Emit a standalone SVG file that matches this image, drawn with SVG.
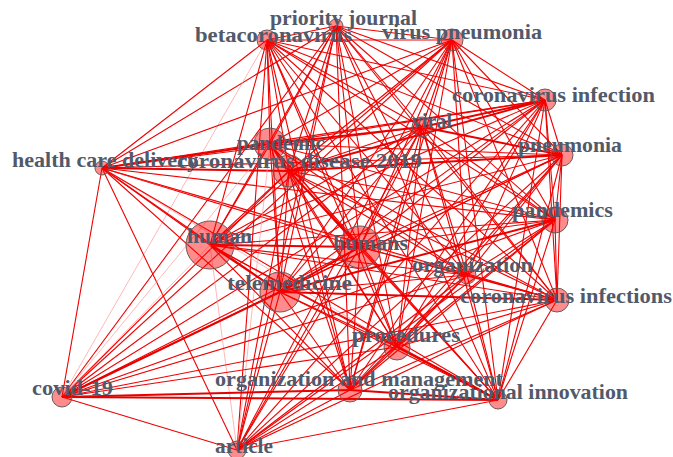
<svg xmlns="http://www.w3.org/2000/svg" width="673" height="457" viewBox="0 0 673 457">
<style>
.e{stroke:#ee0000;stroke-width:1.1;fill:none}
.t{stroke:#e60000;stroke-width:2;fill:none}
.p{stroke:#ff9a9a;stroke-width:1;fill:none;opacity:0.7}
.n{fill:#ff0000;fill-opacity:0.45;stroke:#6a5a5a;stroke-width:1}
.l{font-family:"Liberation Serif","Times New Roman",serif;font-weight:bold;font-size:21px;fill:#515a6a}
</style>
<rect width="673" height="457" fill="#fff"/>
<g id="edges">
<path class="e" d="M336 26L267 40"/><path class="e" d="M336 26L452 40"/><path class="e" d="M336 26L545 100"/><path class="e" d="M336 26L422 127"/><path class="e" d="M336 26L562 155"/><path class="e" d="M336 26L102 168"/><path class="e" d="M336 26L270 144"/><path class="e" d="M336 26L289 171"/><path class="e" d="M336 26L555 220"/><path class="e" d="M336 26L210 245"/><path class="e" d="M336 26L360 247"/><path class="e" d="M336 26L467 275"/><path class="e" d="M336 26L280 292"/><path class="e" d="M336 26L557 300"/><path class="e" d="M336 26L397 347"/><path class="e" d="M336 26L350 390"/><path class="e" d="M336 26L498 400"/><path class="e" d="M336 26L62 397"/><path class="e" d="M336 26L237 450"/>
<path class="e" d="M267 40L452 40"/><path class="e" d="M267 40L545 100"/><path class="e" d="M267 40L422 127"/><path class="e" d="M267 40L562 155"/><path class="e" d="M267 40L102 168"/><path class="e" d="M267 40L270 144"/><path class="e" d="M267 40L289 171"/><path class="e" d="M267 40L555 220"/><path class="e" d="M267 40L210 245"/><path class="e" d="M267 40L360 247"/><path class="e" d="M267 40L467 275"/><path class="e" d="M267 40L280 292"/><path class="e" d="M267 40L557 300"/><path class="e" d="M267 40L397 347"/><path class="e" d="M267 40L350 390"/><path class="e" d="M267 40L498 400"/><path class="p" d="M267 40L62 397"/><path class="e" d="M267 40L237 450"/>
<path class="e" d="M452 40L545 100"/><path class="e" d="M452 40L422 127"/><path class="e" d="M452 40L562 155"/><path class="e" d="M452 40L102 168"/><path class="e" d="M452 40L270 144"/><path class="e" d="M452 40L289 171"/><path class="e" d="M452 40L555 220"/><path class="e" d="M452 40L210 245"/><path class="e" d="M452 40L360 247"/><path class="e" d="M452 40L467 275"/><path class="e" d="M452 40L280 292"/><path class="e" d="M452 40L557 300"/><path class="e" d="M452 40L397 347"/><path class="e" d="M452 40L350 390"/><path class="e" d="M452 40L498 400"/><path class="e" d="M452 40L62 397"/><path class="e" d="M452 40L237 450"/>
<path class="t" d="M545 100L422 127"/><path class="e" d="M545 100L562 155"/><path class="e" d="M545 100L102 168"/><path class="e" d="M545 100L270 144"/><path class="t" d="M545 100L289 171"/><path class="e" d="M545 100L555 220"/><path class="e" d="M545 100L210 245"/><path class="e" d="M545 100L360 247"/><path class="e" d="M545 100L467 275"/><path class="e" d="M545 100L280 292"/><path class="e" d="M545 100L557 300"/><path class="e" d="M545 100L397 347"/><path class="e" d="M545 100L350 390"/><path class="e" d="M545 100L498 400"/><path class="e" d="M545 100L62 397"/><path class="e" d="M545 100L237 450"/>
<path class="t" d="M422 127L562 155"/><path class="e" d="M422 127L102 168"/><path class="t" d="M422 127L270 144"/><path class="e" d="M422 127L289 171"/><path class="e" d="M422 127L555 220"/><path class="e" d="M422 127L210 245"/><path class="e" d="M422 127L360 247"/><path class="e" d="M422 127L467 275"/><path class="e" d="M422 127L280 292"/><path class="e" d="M422 127L557 300"/><path class="e" d="M422 127L397 347"/><path class="e" d="M422 127L350 390"/><path class="e" d="M422 127L498 400"/><path class="e" d="M422 127L62 397"/><path class="e" d="M422 127L237 450"/>
<path class="e" d="M562 155L102 168"/><path class="e" d="M562 155L270 144"/><path class="t" d="M562 155L289 171"/><path class="e" d="M562 155L555 220"/><path class="e" d="M562 155L210 245"/><path class="e" d="M562 155L360 247"/><path class="e" d="M562 155L467 275"/><path class="e" d="M562 155L280 292"/><path class="e" d="M562 155L557 300"/><path class="e" d="M562 155L397 347"/><path class="e" d="M562 155L350 390"/><path class="e" d="M562 155L498 400"/><path class="e" d="M562 155L62 397"/><path class="e" d="M562 155L237 450"/>
<path class="t" d="M102 168L270 144"/><path class="t" d="M102 168L289 171"/><path class="e" d="M102 168L555 220"/><path class="e" d="M102 168L210 245"/><path class="e" d="M102 168L360 247"/><path class="p" d="M102 168L467 275"/><path class="e" d="M102 168L280 292"/><path class="e" d="M102 168L557 300"/><path class="p" d="M102 168L397 347"/><path class="e" d="M102 168L350 390"/><path class="e" d="M102 168L498 400"/><path class="e" d="M102 168L62 397"/><path class="e" d="M102 168L237 450"/>
<path class="t" d="M270 144L289 171"/><path class="e" d="M270 144L555 220"/><path class="e" d="M270 144L210 245"/><path class="e" d="M270 144L360 247"/><path class="e" d="M270 144L467 275"/><path class="e" d="M270 144L280 292"/><path class="e" d="M270 144L557 300"/><path class="e" d="M270 144L397 347"/><path class="e" d="M270 144L350 390"/><path class="e" d="M270 144L498 400"/><path class="p" d="M270 144L62 397"/><path class="p" d="M270 144L237 450"/>
<path class="e" d="M289 171L555 220"/><path class="e" d="M289 171L210 245"/><path class="t" d="M289 171L360 247"/><path class="e" d="M289 171L467 275"/><path class="e" d="M289 171L280 292"/><path class="e" d="M289 171L557 300"/><path class="e" d="M289 171L397 347"/><path class="e" d="M289 171L350 390"/><path class="e" d="M289 171L498 400"/><path class="e" d="M289 171L62 397"/><path class="e" d="M289 171L237 450"/>
<path class="e" d="M555 220L210 245"/><path class="e" d="M555 220L360 247"/><path class="e" d="M555 220L467 275"/><path class="t" d="M555 220L280 292"/><path class="e" d="M555 220L557 300"/><path class="e" d="M555 220L397 347"/><path class="e" d="M555 220L350 390"/><path class="e" d="M555 220L498 400"/><path class="e" d="M555 220L62 397"/><path class="e" d="M555 220L237 450"/>
<path class="t" d="M210 245L360 247"/><path class="e" d="M210 245L467 275"/><path class="t" d="M210 245L280 292"/><path class="e" d="M210 245L557 300"/><path class="e" d="M210 245L397 347"/><path class="e" d="M210 245L350 390"/><path class="e" d="M210 245L498 400"/><path class="p" d="M210 245L62 397"/><path class="p" d="M210 245L237 450"/>
<path class="e" d="M360 247L467 275"/><path class="t" d="M360 247L280 292"/><path class="e" d="M360 247L557 300"/><path class="e" d="M360 247L397 347"/><path class="e" d="M360 247L350 390"/><path class="e" d="M360 247L498 400"/><path class="e" d="M360 247L62 397"/><path class="e" d="M360 247L237 450"/>
<path class="e" d="M467 275L280 292"/><path class="e" d="M467 275L557 300"/><path class="e" d="M467 275L397 347"/><path class="e" d="M467 275L350 390"/><path class="e" d="M467 275L498 400"/><path class="e" d="M467 275L62 397"/><path class="e" d="M467 275L237 450"/>
<path class="t" d="M280 292L557 300"/><path class="e" d="M280 292L397 347"/><path class="e" d="M280 292L350 390"/><path class="e" d="M280 292L498 400"/><path class="t" d="M280 292L62 397"/><path class="e" d="M280 292L237 450"/>
<path class="e" d="M557 300L397 347"/><path class="e" d="M557 300L350 390"/><path class="e" d="M557 300L498 400"/><path class="e" d="M557 300L62 397"/><path class="e" d="M557 300L237 450"/>
<path class="e" d="M397 347L350 390"/><path class="t" d="M397 347L498 400"/><path class="e" d="M397 347L62 397"/><path class="e" d="M397 347L237 450"/>
<path class="t" d="M350 390L498 400"/><path class="t" d="M350 390L62 397"/><path class="e" d="M350 390L237 450"/>
<path class="t" d="M498 400L62 397"/><path class="e" d="M498 400L237 450"/>
<path class="e" d="M62 397L237 450"/>
</g>
<g id="n-human"><circle class="n" cx="210" cy="245" r="24"/><text class="l" x="187" y="243" textLength="65" lengthAdjust="spacingAndGlyphs">human</text></g>
<g id="n-humans"><circle class="n" cx="360" cy="247" r="21"/><text class="l" x="333" y="250" textLength="75" lengthAdjust="spacingAndGlyphs">humans</text></g>
<g id="n-telemedicine"><circle class="n" cx="280" cy="292" r="20"/><text class="l" x="227" y="290" textLength="125" lengthAdjust="spacingAndGlyphs">telemedicine</text></g>
<g id="n-pandemic"><circle class="n" cx="270" cy="144" r="16"/><text class="l" x="237" y="150" textLength="88" lengthAdjust="spacingAndGlyphs">pandemic</text></g>
<g id="n-health-care-delivery"><circle class="n" cx="102" cy="168" r="7"/><text class="l" x="12" y="167" textLength="186" lengthAdjust="spacingAndGlyphs">health care delivery</text></g>
<g id="n-coronavirus-disease-2019"><circle class="n" cx="289" cy="171" r="16"/><text class="l" x="177" y="168" textLength="245" lengthAdjust="spacingAndGlyphs">coronavirus disease 2019</text></g>
<g id="n-priority-journal"><circle class="n" cx="336" cy="26" r="7"/><text class="l" x="270" y="25" textLength="147" lengthAdjust="spacingAndGlyphs">priority journal</text></g>
<g id="n-betacoronavirus"><circle class="n" cx="267" cy="40" r="10"/><text class="l" x="195" y="42" textLength="157" lengthAdjust="spacingAndGlyphs">betacoronavirus</text></g>
<g id="n-virus-pneumonia"><circle class="n" cx="452" cy="40" r="11"/><text class="l" x="382" y="39" textLength="160" lengthAdjust="spacingAndGlyphs">virus pneumonia</text></g>
<g id="n-coronavirus-infection"><circle class="n" cx="545" cy="100" r="11"/><text class="l" x="452" y="102" textLength="203" lengthAdjust="spacingAndGlyphs">coronavirus infection</text></g>
<g id="n-viral"><circle class="n" cx="422" cy="127" r="10"/><text class="l" x="412" y="128" textLength="40" lengthAdjust="spacingAndGlyphs">viral</text></g>
<g id="n-pneumonia"><circle class="n" cx="562" cy="155" r="11"/><text class="l" x="518" y="152" textLength="104" lengthAdjust="spacingAndGlyphs">pneumonia</text></g>
<g id="n-pandemics"><circle class="n" cx="555" cy="220" r="13"/><text class="l" x="512" y="217" textLength="101" lengthAdjust="spacingAndGlyphs">pandemics</text></g>
<g id="n-organization"><circle class="n" cx="467" cy="275" r="9"/><text class="l" x="412" y="272" textLength="121" lengthAdjust="spacingAndGlyphs">organization</text></g>
<g id="n-coronavirus-infections"><circle class="n" cx="557" cy="300" r="12"/><text class="l" x="460" y="303" textLength="212" lengthAdjust="spacingAndGlyphs">coronavirus infections</text></g>
<g id="n-procedures"><circle class="n" cx="397" cy="347" r="13"/><text class="l" x="352" y="342" textLength="108" lengthAdjust="spacingAndGlyphs">procedures</text></g>
<g id="n-organization-and-management"><circle class="n" cx="350" cy="390" r="12"/><text class="l" x="215" y="386" textLength="288" lengthAdjust="spacingAndGlyphs">organization and management</text></g>
<g id="n-organizational-innovation"><circle class="n" cx="498" cy="400" r="9"/><text class="l" x="388" y="399" textLength="240" lengthAdjust="spacingAndGlyphs">organizational innovation</text></g>
<g id="n-covid-19"><circle class="n" cx="62" cy="397" r="10"/><text class="l" x="32" y="395" textLength="81" lengthAdjust="spacingAndGlyphs">covid-19</text></g>
<g id="n-article"><circle class="n" cx="237" cy="450" r="9"/><text class="l" x="215" y="453" textLength="58" lengthAdjust="spacingAndGlyphs">article</text></g>
</svg>
